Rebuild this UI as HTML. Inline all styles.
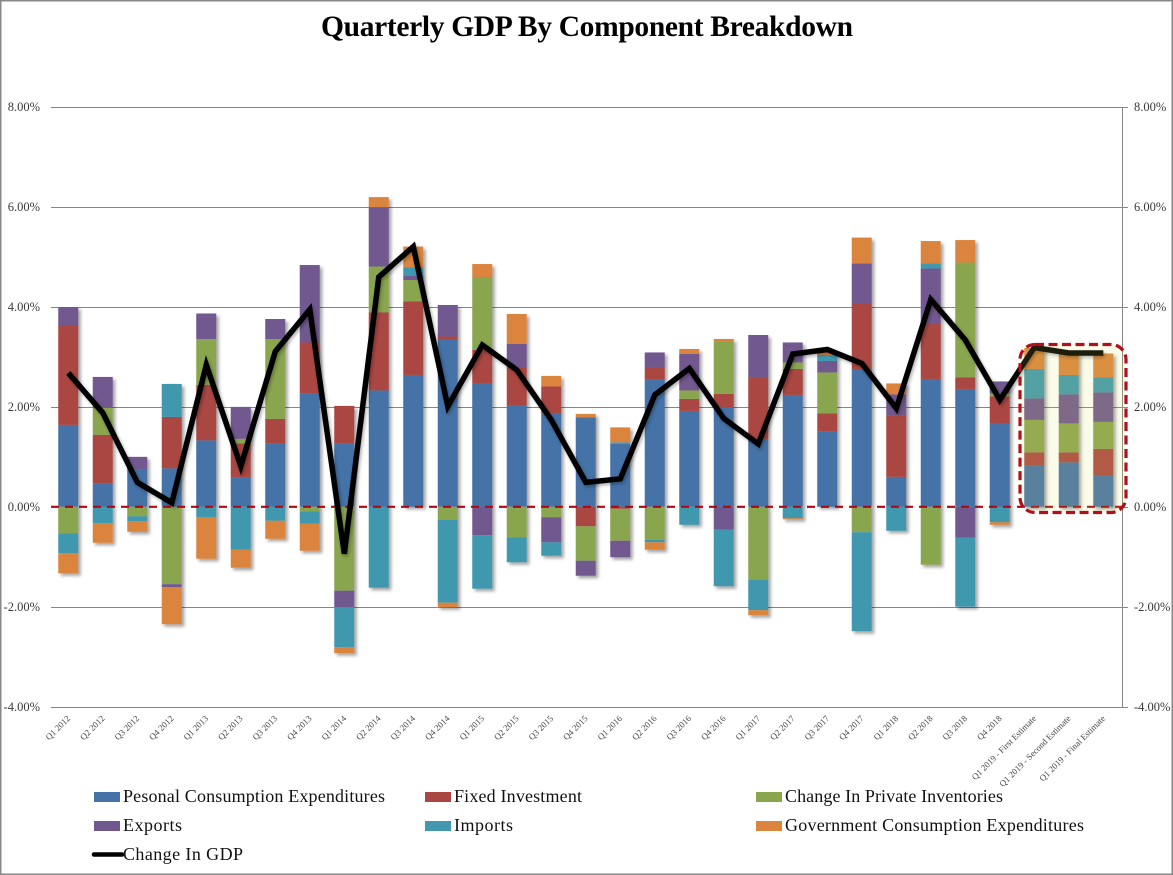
<!DOCTYPE html>
<html lang="en">
<head>
<meta charset="utf-8">
<title>Quarterly GDP By Component Breakdown</title>
<style>
html,body{margin:0;padding:0;background:#fff;}
body{width:1173px;height:875px;overflow:hidden;}
svg{display:block;font-family:"Liberation Serif",serif;}
</style>
</head>
<body>
<svg id="chart" xmlns="http://www.w3.org/2000/svg" width="1173" height="875" viewBox="0 0 1173 875">
  <defs>
    <filter id="bar-shadow" x="-10%" y="-10%" width="120%" height="120%">
      <feDropShadow dx="2.5" dy="2.5" stdDeviation="1.6" flood-color="#000" flood-opacity="0.36"/>
    </filter>
    <filter id="line-shadow" x="-5%" y="-5%" width="110%" height="110%">
      <feDropShadow dx="1.5" dy="2" stdDeviation="1.5" flood-color="#000" flood-opacity="0.3"/>
    </filter>
  </defs>
  <rect x="0.75" y="0.75" width="1171.5" height="873.5" fill="#fff" stroke="#888" stroke-width="1.5"/>
  <text x="587" y="36" text-anchor="middle" font-size="29.5" font-weight="bold" fill="#000" textLength="532" lengthAdjust="spacing">Quarterly GDP By Component Breakdown</text>
  <g id="grid"></g>
  <g id="y-labels"></g>
  <line x1="1122.5" y1="107" x2="1122.5" y2="707" stroke="#868686" stroke-width="1"/>
  <g id="bars" filter="url(#bar-shadow)"></g>
  <line id="zero-line" x1="51" x2="1123" stroke="#ab0a14" stroke-width="2.2" stroke-dasharray="8 6"/>
  <g id="x-labels"></g>
  <path id="gdp-line" fill="none" stroke="#000" stroke-width="5.5" stroke-linejoin="miter" filter="url(#line-shadow)"/>
  <rect x="1020" y="344.5" width="106" height="168" rx="15" ry="15" fill="rgb(225,225,90)" fill-opacity="0.13" stroke="#b0101c" stroke-width="3.2" stroke-dasharray="9 4.5"/>

  <g font-size="18" fill="#111">
    <g>
      <rect x="94" y="792" width="26" height="10" fill="#4572a7"/>
      <text x="123" y="802" textLength="262" lengthAdjust="spacing">Pesonal Consumption Expenditures</text>
    </g>
    <g>
      <rect x="425" y="792" width="26" height="10" fill="#aa4643"/>
      <text x="454" y="802" textLength="128" lengthAdjust="spacing">Fixed Investment</text>
    </g>
    <g>
      <rect x="756" y="792" width="26" height="10" fill="#89a54e"/>
      <text x="785" y="802" textLength="218" lengthAdjust="spacing">Change In Private Inventories</text>
    </g>
    <g>
      <rect x="94" y="821" width="26" height="10" fill="#71588f"/>
      <text x="123" y="831" textLength="59" lengthAdjust="spacing">Exports</text>
    </g>
    <g>
      <rect x="425" y="821" width="26" height="10" fill="#4198af"/>
      <text x="454" y="831" textLength="59" lengthAdjust="spacing">Imports</text>
    </g>
    <g>
      <rect x="756" y="821" width="26" height="10" fill="#db843d"/>
      <text x="785" y="831" textLength="299" lengthAdjust="spacing">Government Consumption Expenditures</text>
    </g>
    <g>
      <line x1="94" y1="854.5" x2="122" y2="854.5" stroke="#000" stroke-width="4.5" stroke-linecap="round"/>
      <text x="123" y="860" textLength="120" lengthAdjust="spacing">Change In GDP</text>
    </g>
  </g>
</svg>
<script>
const categories = ["Q1 2012","Q2 2012","Q3 2012","Q4 2012","Q1 2013","Q2 2013","Q3 2013","Q4 2013","Q1 2014","Q2 2014","Q3 2014","Q4 2014","Q1 2015","Q2 2015","Q3 2015","Q4 2015","Q1 2016","Q2 2016","Q3 2016","Q4 2016","Q1 2017","Q2 2017","Q3 2017","Q4 2017","Q1 2018","Q2 2018","Q3 2018","Q4 2018","Q1 2019 - First Estimate","Q1 2019 - Second Estimate","Q1 2019 - Final Estimate"];
const consumption = [1.64,0.47,0.74,0.77,1.33,0.59,1.27,2.27,1.27,2.33,2.64,3.35,2.47,2.02,1.87,1.79,1.26,2.55,1.92,1.99,1.34,2.24,1.51,2.74,0.60,2.56,2.36,1.66,0.82,0.89,0.62];
const fixedInvestment = [1.98,0.97,0,1.03,1.11,0.68,0.49,1.02,0.75,1.56,1.47,0.06,0.67,0.77,0.54,-0.39,-0.04,0.24,0.24,0.27,1.25,0.52,0.36,1.32,1.23,1.10,0.23,0.55,0.27,0.20,0.54];
const privateInventories = [-0.53,0.54,-0.19,-1.55,0.92,0.09,1.60,-0.09,-1.68,0.92,0.43,-0.26,1.46,-0.61,-0.21,-0.69,-0.64,-0.66,0.17,1.05,-1.46,0.13,0.82,-0.51,0,-1.16,2.30,0.06,0.65,0.58,0.54];
const exportsValues = [0.38,0.62,0.26,-0.06,0.51,0.64,0.40,1.55,-0.33,1.19,0.08,0.63,-0.57,0.47,-0.50,-0.30,-0.33,0.30,0.73,-0.46,0.85,0.40,0.23,0.81,0.42,1.11,-0.62,0.24,0.43,0.58,0.59];
const importsValues = [-0.40,-0.33,-0.10,0.66,-0.21,-0.86,-0.28,-0.25,-0.80,-1.62,0.17,-1.66,-1.07,-0.50,-0.27,0,0.03,-0.05,-0.36,-1.13,-0.61,-0.23,0.12,-1.98,-0.48,0.10,-1.38,-0.31,0.59,0.39,0.30];
const government = [-0.40,-0.39,-0.21,-0.74,-0.83,-0.36,-0.36,-0.54,-0.12,0.20,0.42,-0.09,0.26,0.60,0.21,0.07,0.30,-0.15,0.10,0.05,-0.10,-0.02,0.07,0.52,0.22,0.45,0.45,-0.05,0.42,0.43,0.48];
const gdpChange = [2.68,1.88,0.49,0.08,2.84,0.81,3.11,3.95,-0.94,4.60,5.21,2.01,3.24,2.74,1.74,0.49,0.56,2.24,2.77,1.77,1.26,3.06,3.15,2.87,1.97,4.15,3.34,2.14,3.19,3.08,3.08];
const yTicks = [8,6,4,2,0,-2,-4];

const SVG_NS = "http://www.w3.org/2000/svg";
const plotLeft = 51, plotRight = 1120.5, zeroY = 506.8, pxPerUnit = 49.95, barWidth = 20;
function xScale(i){ return plotLeft + (plotRight - plotLeft) * (i + 0.5) / categories.length; }
function yScale(v){ return zeroY - v * pxPerUnit; }
function make(tag, attrs){
  const el = document.createElementNS(SVG_NS, tag);
  for (const k in attrs) el.setAttribute(k, attrs[k]);
  return el;
}

const grid = document.getElementById("grid");
const yLabels = document.getElementById("y-labels");
yTicks.forEach(function(t){
  const y = Math.round(yScale(t)) + 0.5;
  if (t !== 0) {
    const line = make("line", {x1: 51, x2: 1128, y1: y, y2: y, stroke: "#868686", "stroke-width": 1});
    
    
    grid.appendChild(line);
  } else {
    const tick = make("line", {x1: 1123, x2: 1128, y1: y, y2: y, stroke: "#868686", "stroke-width": 1});
    
    
    grid.appendChild(tick);
  }
  const label = t.toFixed(2) + "%";
  const left = make("text", {x: 40, y: y + 3.5, "text-anchor": "end", "font-size": 12.5, fill: "#3a3a3a"});
  left.textContent = label;
  
  
  yLabels.appendChild(left);
  const right = make("text", {x: 1134, y: y + 3.5, "text-anchor": "start", "font-size": 12.5, fill: "#3a3a3a"});
  right.textContent = label;
  
  
  yLabels.appendChild(right);
});

const stackOrder = [
  {name: "consumption", values: consumption, color: "#4572a7"},
  {name: "fixed-investment", values: fixedInvestment, color: "#aa4643"},
  {name: "private-inventories", values: privateInventories, color: "#89a54e"},
  {name: "exports", values: exportsValues, color: "#71588f"},
  {name: "imports", values: importsValues, color: "#4198af"},
  {name: "government", values: government, color: "#db843d"}
];
const barsGroup = document.getElementById("bars");
categories.forEach(function(cat, i){
  let pos = 0, neg = 0;
  stackOrder.forEach(function(series){
    const v = series.values[i];
    if (!v) return;
    let a, b;
    if (v > 0) { a = pos; b = pos + v; pos = b; }
    else { a = neg; b = neg + v; neg = b; }
    const y1 = yScale(Math.max(a, b)), y2 = yScale(Math.min(a, b));
    const r = make("rect", {x: xScale(i) - barWidth / 2, y: y1, width: barWidth, height: y2 - y1, fill: series.color});
    
    
    barsGroup.appendChild(r);
  });
});

document.getElementById("zero-line").setAttribute("y1", yScale(0));
document.getElementById("zero-line").setAttribute("y2", yScale(0));

const xLabels = document.getElementById("x-labels");
categories.forEach(function(cat, i){
  const px = xScale(i) + 2.5, py = 719;
  const t = make("text", {x: px, y: py, "text-anchor": "end", "font-size": 8.8, fill: "#444", transform: "rotate(-45 " + px + " " + py + ")"});
  t.textContent = cat;
  
  
  xLabels.appendChild(t);
});

document.getElementById("gdp-line").setAttribute("d", gdpChange.map(function(v, i){
  return (i ? "L" : "M") + xScale(i).toFixed(1) + " " + yScale(v).toFixed(1);
}).join(" "));
</script>
</body>
</html>
